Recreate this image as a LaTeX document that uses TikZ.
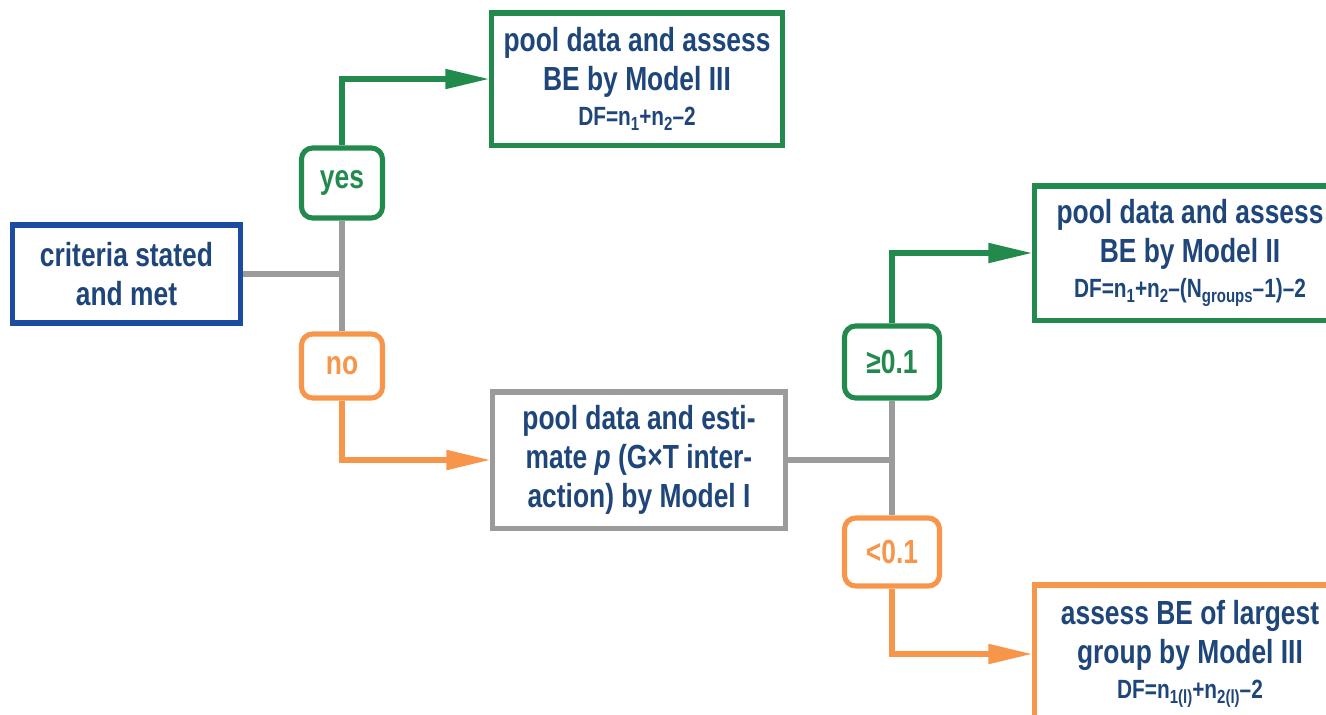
\documentclass[tikz,border=0pt]{standalone}
\usepackage{fontspec}
\setmainfont{Liberation Sans}[FakeStretch=0.79]
\usetikzlibrary{arrows.meta}
\definecolor{navytext}{HTML}{1F467A}
\definecolor{boxblue}{HTML}{1C4CA0}
\definecolor{okgreen}{HTML}{238A4E}
\definecolor{noorange}{HTML}{F7954A}
\definecolor{linegray}{HTML}{9B9B9B}
\newcommand{\lowsub}[1]{\raisebox{-0.4ex}{\scalebox{0.72}{#1}}}
\tikzset{
  box/.style={draw, line width=1.45pt, fill=white, align=center, text=navytext,
    font=\bfseries\fontsize{9.5}{11}\selectfont},
  choice/.style={draw, line width=1.45pt, fill=white, rounded corners=3.2pt,
    font=\bfseries\fontsize{9.5}{11}\selectfont},
  wire/.style={draw=linegray, line width=1.45pt},
  yesarrow/.style={draw=okgreen, line width=1.45pt, -{Triangle[length=12.5pt,width=5.4pt]}},
  noarrow/.style={draw=noorange, line width=1.45pt, -{Triangle[length=12.5pt,width=5.4pt]}},
}
\newcommand{\dfline}[1]{\\[-1pt]{\fontsize{7.5}{8}\selectfont #1}}
\begin{document}
\begin{tikzpicture}[x=0.01cm, y=-0.01cm]
  \useasboundingbox (0,0) rectangle (1326,714);
  \node[box, draw=boxblue, minimum width=2.27cm, minimum height=0.98cm] (crit) at (126.5,274)
    {criteria stated\\and met};
  \node[choice, draw=okgreen, text=okgreen, minimum width=0.81cm, minimum height=0.70cm] (yes) at (342,183) {yes};
  \node[choice, draw=noorange, text=noorange, minimum width=0.81cm, minimum height=0.64cm] (no) at (342,366) {no};
  \node[box, draw=okgreen, minimum width=2.88cm, minimum height=1.32cm] (mthree) at (637,79)
    {pool data and assess\\BE by Model III\dfline{DF=n\lowsub{1}+n\lowsub{2}--2}};
  \node[box, draw=linegray, minimum width=2.92cm, minimum height=1.36cm] (mone) at (639,460)
    {pool data and esti-\\mate \textit{p} (G×T inter-\\action) by Model I};
  \node[choice, draw=okgreen, text=okgreen, minimum width=0.95cm, minimum height=0.72cm] (high) at (892,362) {≥0.1};
  \node[choice, draw=noorange, text=noorange, minimum width=0.95cm, minimum height=0.68cm] (low) at (892,552) {<0.1};
  \node[box, draw=okgreen, minimum width=3.10cm, minimum height=1.34cm] (mtwo) at (1190,253)
    {pool data and assess\\BE by Model II\dfline{DF=n\lowsub{1}+n\lowsub{2}--(N\lowsub{groups}--1)--2}};
  \node[box, draw=noorange, minimum width=3.10cm, minimum height=1.38cm] (mlarge) at (1190,654)
    {assess BE of largest\\group by Model III\dfline{DF=n\lowsub{1(l)}+n\lowsub{2(l)}--2}};
  \draw[wire] (crit.east) -- (crit.east -| yes.south);
  \draw[wire] (yes.south) -- (no.north);
  \draw[yesarrow] (yes.north) |- (mthree.west);
  \draw[noarrow] (no.south) |- (mone.west);
  \draw[wire] (mone.east) -- (mone.east -| high.south);
  \draw[wire] (high.south) -- (low.north);
  \draw[yesarrow] (high.north) |- (mtwo.west);
  \draw[noarrow] (low.south) |- (mlarge.west);
\end{tikzpicture}
\end{document}
